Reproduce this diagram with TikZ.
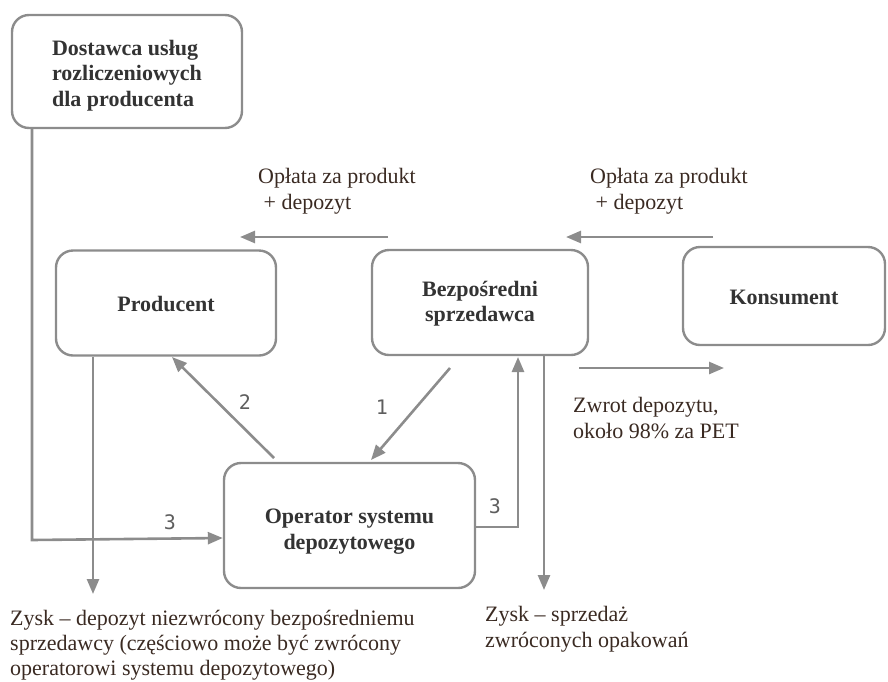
\documentclass[tikz,border=0pt]{standalone}
\usepackage{fontspec}
\setmainfont{Liberation Serif}
\newfontfamily\numfont{DejaVu Sans Mono}
\usetikzlibrary{arrows.meta}
\definecolor{linegray}{HTML}{8C8C8C}
\definecolor{boxtext}{HTML}{333333}
\definecolor{plaintext}{HTML}{3A2A22}
\definecolor{numgray}{HTML}{5E5E5E}
\tikzset{
  box/.style={draw=linegray, line width=2.4pt, rounded corners=17pt, fill=white, inner sep=0pt},
  boxlabel/.style={font=\fontsize{22}{25.5}\selectfont\bfseries, text=boxtext, align=center, inner sep=0pt},
  flow/.style={draw=linegray, line width=2.6pt, -{Triangle[length=15pt,width=12pt]}},
  note/.style={font=\fontsize{22}{26}\selectfont, text=plaintext, align=left, inner sep=0pt, anchor=base west},
  num/.style={font=\numfont\fontsize{20}{24}\selectfont, text=numgray, inner sep=0pt}
}
\begin{document}
\begin{tikzpicture}[x=1pt, y=-1pt]
\useasboundingbox (0,0) rectangle (888,681);
\clip (0,0) rectangle (888,681);

% boxes
\node[box, minimum width=230pt, minimum height=113pt] (dost) at (127,71.5) {};
\node[box, minimum width=220pt, minimum height=105pt] (prod) at (166,303) {};
\node[box, minimum width=216pt, minimum height=105pt] (bezp) at (480,302.5) {};
\node[box, minimum width=202pt, minimum height=98pt] (kons) at (784,296) {};
\node[box, minimum width=251pt, minimum height=125pt] (oper) at (349.5,525.5) {};

% box captions
\node[boxlabel, align=left] (dostT) at ([yshift=-4pt]dost.center) {Dostawca usług\\rozliczeniowych\\dla producenta};
\node[boxlabel] (prodT) at ([yshift=-1pt]prod.center) {Producent};
\node[boxlabel] (bezpT) at ([yshift=-1pt]bezp.center) {Bezpośredni\\sprzedawca};
\node[boxlabel] (konsT) at ([yshift=-1pt]kons.center) {Konsument};
\node[boxlabel] (operT) at ([yshift=-6pt]oper.center) {Operator systemu\\depozytowego};

% free ends of the payment and refund arrows
\coordinate (payA1) at (388,237);
\coordinate (payA2) at (240,237);
\coordinate (payB1) at (713,237);
\coordinate (payB2) at (566,237);
\coordinate (ret1) at (579,368);
\coordinate (ret2) at (724,368);

\draw[flow] (payA1) -- (payA2);
\draw[flow] (payB1) -- (payB2);
\draw[flow] (ret1) -- (ret2);

% numbered flows around the operator
\coordinate (o2s) at (274,458);
\coordinate (p2e) at (172,357);
\draw[flow] (o2s) -- (p2e);
\node[num] (n2) at (245,402) {2};

\coordinate (b1s) at (450,368);
\coordinate (o1e) at (371,460);
\draw[flow] (b1s) -- (o1e);
\node[num] (n1) at (382,407) {1};

\coordinate (o3bend) at (518,527);
\draw[flow] (oper.east |- o3bend) -- (o3bend) -- (518,357);
\node[num] (n3r) at (495,506) {3};

\coordinate (d3a) at (32,540);
\draw[flow] (dost.south -| d3a) -- (d3a) -- (oper.west |- 0,538);
\node[num] (n3l) at (170,522) {3};

% profit outflows
\coordinate (profL) at (93,594);
\draw[flow] (prod.south -| profL) -- (profL);
\coordinate (profR) at (544,590);
\draw[flow] (bezp.south -| profR) -- (profR);

% labels (anchored at the baseline of their last line)
\node[note] (txA) at (258,209) {Opłata za produkt\\\ + depozyt};
\node[note] (txB) at (590,209) {Opłata za produkt\\\ + depozyt};
\node[note] (txR) at (573,438) {Zwrot depozytu,\\około 98\% za PET};
\node[note, font=\fontsize{22}{25}\selectfont] (txL) at (10,675) {Zysk – depozyt niezwrócony bezpośredniemu\\sprzedawcy (częściowo może być zwrócony\\operatorowi systemu depozytowego)};
\node[note] (txS) at (485,647) {Zysk – sprzedaż\\zwróconych opakowań};
\end{tikzpicture}
\end{document}
